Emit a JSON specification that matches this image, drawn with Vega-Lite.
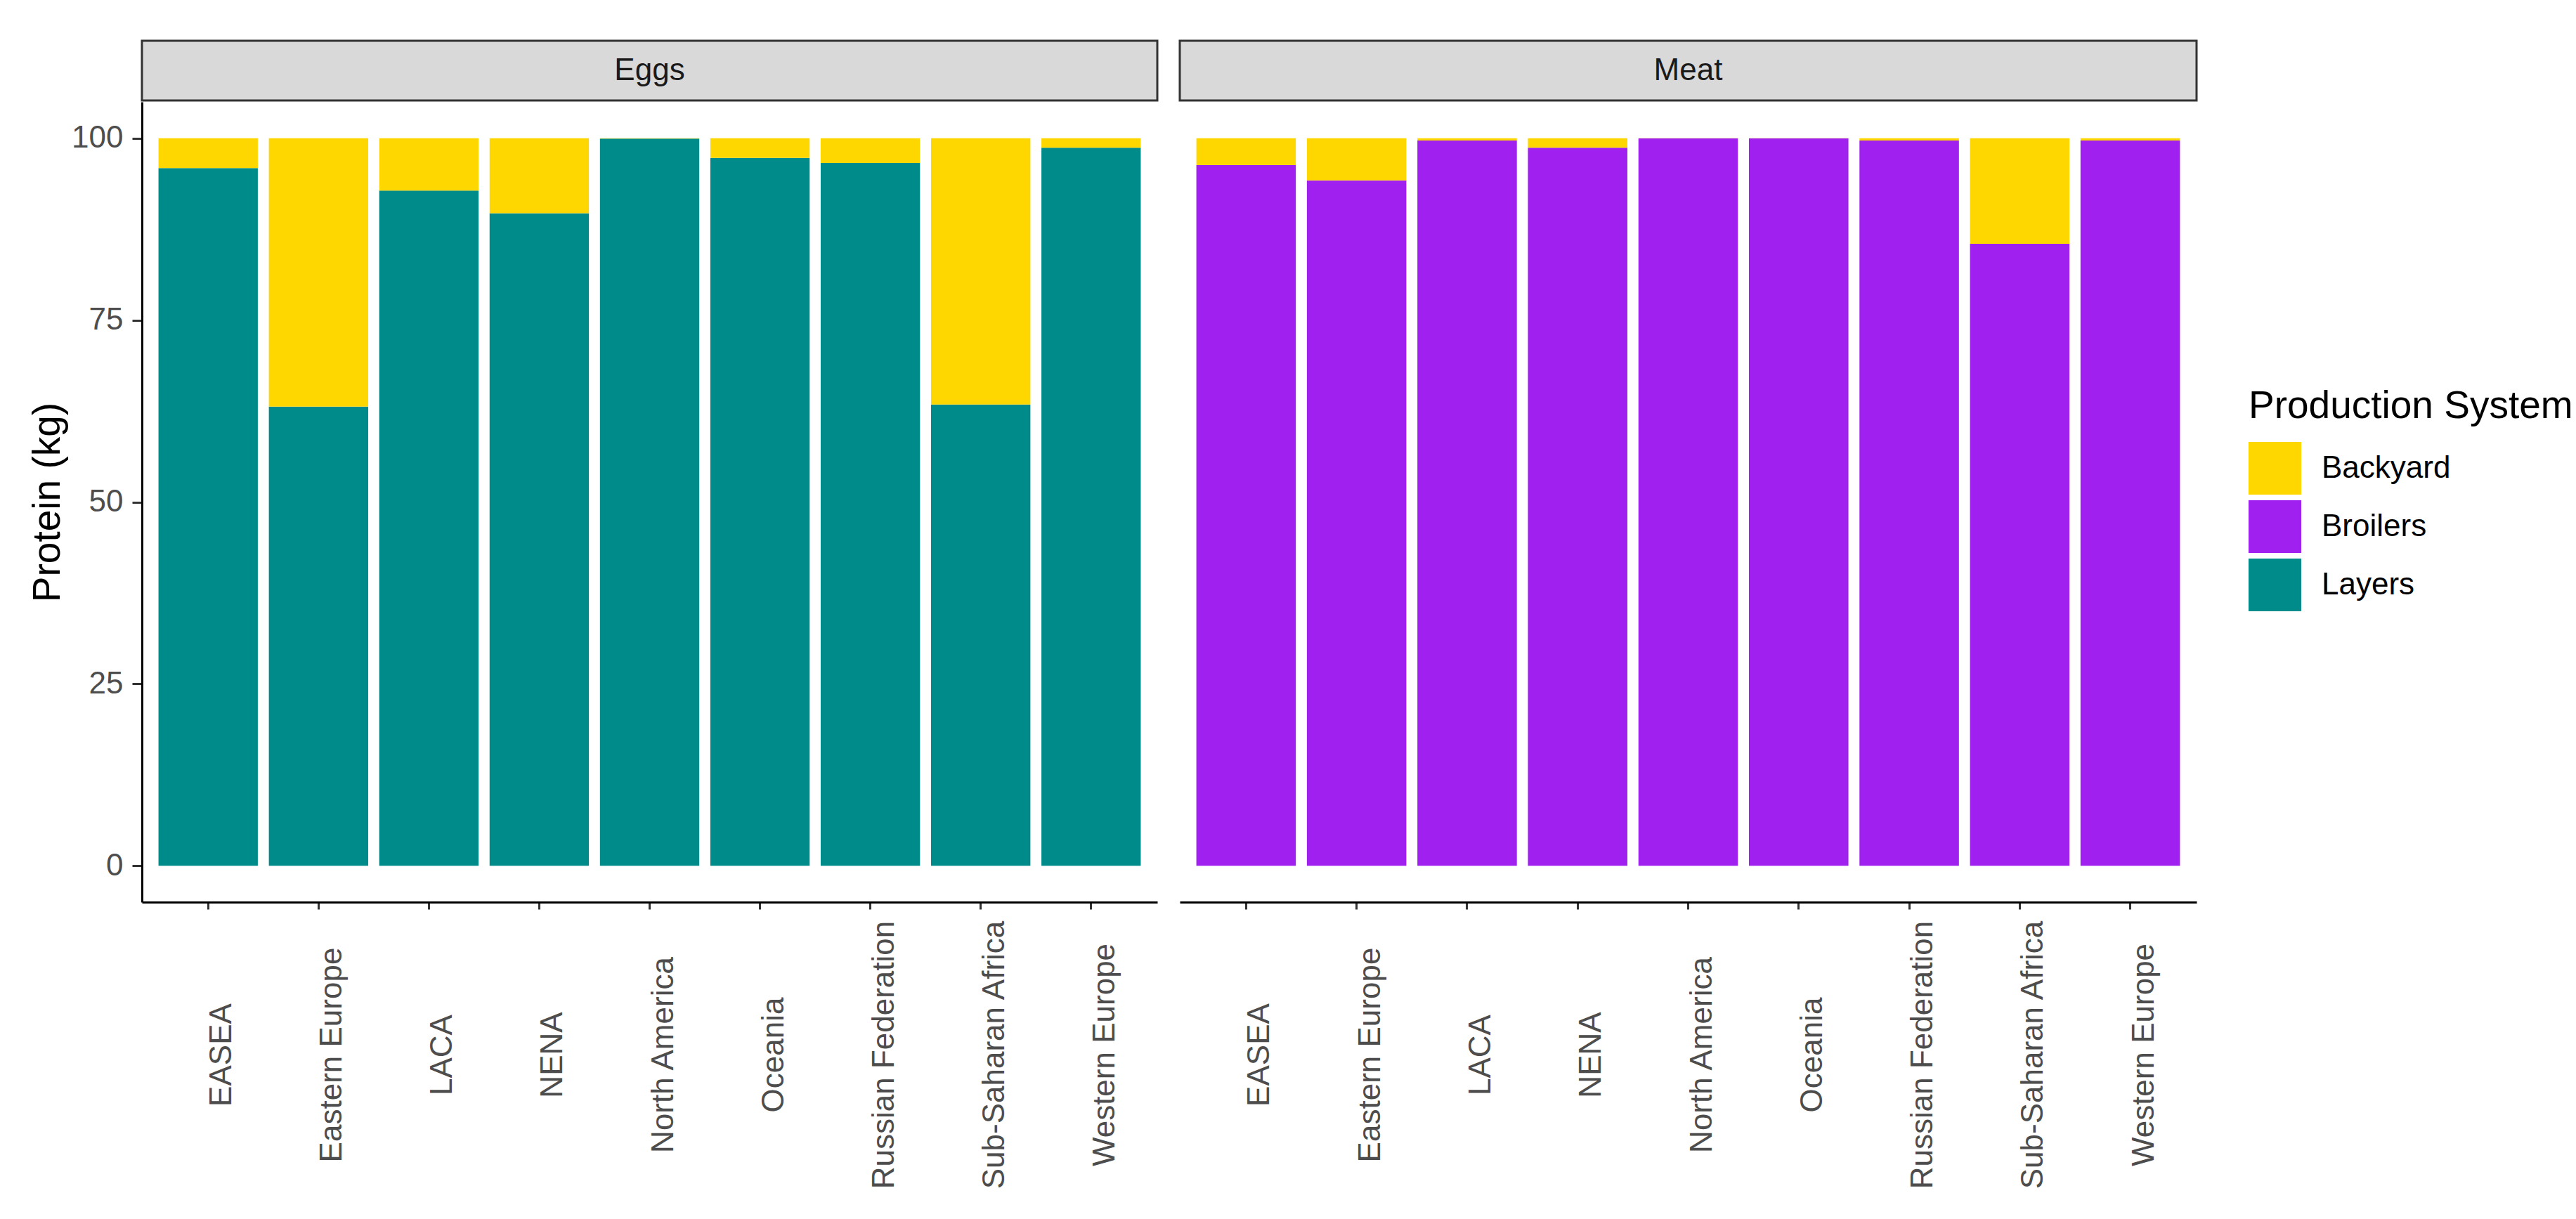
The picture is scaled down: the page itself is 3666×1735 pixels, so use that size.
{
  "$schema": "https://vega.github.io/schema/vega-lite/v6.json",
  "padding": {"left": 40, "top": 56, "right": 0, "bottom": 0},
  "background": "white",
  "config": {
    "font": "Liberation Sans",
    "view": {"stroke": null},
    "axisX": {"domainColor": "black", "domainWidth": 3, "tickColor": "#333333", "tickWidth": 3, "tickSize": 10, "labelFontSize": 44, "labelColor": "#4D4D4D", "labelAngle": -90, "labelAlign": "center", "labelBaseline": "middle", "labelPadding": 207, "labelOffset": 20, "grid": false, "labelLimit": 0},
    "axisY": {"domainColor": "black", "domainWidth": 3, "tickColor": "#333333", "tickWidth": 3, "tickSize": 14, "labelFontSize": 44, "labelColor": "#4D4D4D", "labelPadding": 13, "titleFontSize": 55, "titleFontWeight": "normal", "titleColor": "black", "titlePadding": 5, "grid": false}
  },
  "datasets": {
    "d": [
      {"product": "Eggs", "region": "EASEA", "system": "Layers", "value": 95.9},
      {"product": "Eggs", "region": "EASEA", "system": "Backyard", "value": 4.1},
      {"product": "Eggs", "region": "Eastern Europe", "system": "Layers", "value": 63.1},
      {"product": "Eggs", "region": "Eastern Europe", "system": "Backyard", "value": 36.9},
      {"product": "Eggs", "region": "LACA", "system": "Layers", "value": 92.8},
      {"product": "Eggs", "region": "LACA", "system": "Backyard", "value": 7.2},
      {"product": "Eggs", "region": "NENA", "system": "Layers", "value": 89.7},
      {"product": "Eggs", "region": "NENA", "system": "Backyard", "value": 10.3},
      {"product": "Eggs", "region": "North America", "system": "Layers", "value": 99.95},
      {"product": "Eggs", "region": "North America", "system": "Backyard", "value": 0.05},
      {"product": "Eggs", "region": "Oceania", "system": "Layers", "value": 97.3},
      {"product": "Eggs", "region": "Oceania", "system": "Backyard", "value": 2.7},
      {"product": "Eggs", "region": "Russian Federation", "system": "Layers", "value": 96.6},
      {"product": "Eggs", "region": "Russian Federation", "system": "Backyard", "value": 3.4},
      {"product": "Eggs", "region": "Sub-Saharan Africa", "system": "Layers", "value": 63.4},
      {"product": "Eggs", "region": "Sub-Saharan Africa", "system": "Backyard", "value": 36.6},
      {"product": "Eggs", "region": "Western Europe", "system": "Layers", "value": 98.7},
      {"product": "Eggs", "region": "Western Europe", "system": "Backyard", "value": 1.3},
      {"product": "Meat", "region": "EASEA", "system": "Broilers", "value": 96.3},
      {"product": "Meat", "region": "EASEA", "system": "Backyard", "value": 3.7},
      {"product": "Meat", "region": "Eastern Europe", "system": "Broilers", "value": 94.2},
      {"product": "Meat", "region": "Eastern Europe", "system": "Backyard", "value": 5.8},
      {"product": "Meat", "region": "LACA", "system": "Broilers", "value": 99.7},
      {"product": "Meat", "region": "LACA", "system": "Backyard", "value": 0.3},
      {"product": "Meat", "region": "NENA", "system": "Broilers", "value": 98.7},
      {"product": "Meat", "region": "NENA", "system": "Backyard", "value": 1.3},
      {"product": "Meat", "region": "North America", "system": "Broilers", "value": 99.97},
      {"product": "Meat", "region": "North America", "system": "Backyard", "value": 0.03},
      {"product": "Meat", "region": "Oceania", "system": "Broilers", "value": 99.97},
      {"product": "Meat", "region": "Oceania", "system": "Backyard", "value": 0.03},
      {"product": "Meat", "region": "Russian Federation", "system": "Broilers", "value": 99.7},
      {"product": "Meat", "region": "Russian Federation", "system": "Backyard", "value": 0.3},
      {"product": "Meat", "region": "Sub-Saharan Africa", "system": "Broilers", "value": 85.5},
      {"product": "Meat", "region": "Sub-Saharan Africa", "system": "Backyard", "value": 14.5},
      {"product": "Meat", "region": "Western Europe", "system": "Broilers", "value": 99.7},
      {"product": "Meat", "region": "Western Europe", "system": "Backyard", "value": 0.3}
    ]
  },
  "data": {"name": "d"},
  "spacing": 28,
  "hconcat": [
    {
      "spacing": 0,
      "vconcat": [
        {
          "width": 1445, "height": 85,
          "view": {"fill": "#D9D9D9", "stroke": "#333333", "strokeWidth": 3},
          "transform": [{"filter": "datum.product === 'Eggs'"}, {"aggregate": [{"op": "count", "as": "n"}], "groupby": ["product"]}],
          "mark": {"type": "text", "fontSize": 44, "color": "#1A1A1A"},
          "encoding": {"text": {"field": "product", "type": "nominal"}}
        },
        {
          "width": 1445, "height": 1139,
          "transform": [{"filter": "datum.product === 'Eggs'"}],
          "mark": {"type": "bar"},
          "encoding": {
            "x": {"field": "region", "type": "nominal", "title": null, "scale": {"paddingInner": 0.1, "paddingOuter": 0.15}},
            "y": {"field": "value", "type": "quantitative", "stack": "zero", "title": "Protein (kg)", "scale": {"domain": [-5, 105], "nice": false, "zero": false}, "axis": {"values": [0, 25, 50, 75, 100]}},
            "color": {"field": "system", "type": "nominal", "scale": {"domain": ["Backyard", "Broilers", "Layers"], "range": ["#FFD700", "#A020F0", "#008B8B"]},
              "legend": {"title": "Production System", "orient": "none", "legendX": 2998, "legendY": 494, "titleFontSize": 55, "titleFontWeight": "normal", "titleColor": "black", "titlePadding": 22, "titleLimit": 0, "labelLimit": 0, "labelFontSize": 44, "labelColor": "black", "symbolType": "square", "symbolSize": 5625, "symbolStrokeWidth": 0, "symbolOpacity": 1, "rowPadding": 8, "labelOffset": 29}},
            "order": {"field": "system", "sort": "descending"}
          }
        }
      ]
    },
    {
      "spacing": 0,
      "vconcat": [
        {
          "width": 1447, "height": 85,
          "view": {"fill": "#D9D9D9", "stroke": "#333333", "strokeWidth": 3},
          "transform": [{"filter": "datum.product === 'Meat'"}, {"aggregate": [{"op": "count", "as": "n"}], "groupby": ["product"]}],
          "mark": {"type": "text", "fontSize": 44, "color": "#1A1A1A"},
          "encoding": {"text": {"field": "product", "type": "nominal"}}
        },
        {
          "width": 1447, "height": 1139,
          "transform": [{"filter": "datum.product === 'Meat'"}],
          "mark": {"type": "bar"},
          "encoding": {
            "x": {"field": "region", "type": "nominal", "title": null, "scale": {"paddingInner": 0.1, "paddingOuter": 0.15}},
            "y": {"field": "value", "type": "quantitative", "stack": "zero", "scale": {"domain": [-5, 105], "nice": false, "zero": false}, "axis": null},
            "color": {"field": "system", "type": "nominal", "scale": {"domain": ["Backyard", "Broilers", "Layers"], "range": ["#FFD700", "#A020F0", "#008B8B"]},
              "legend": {"title": "Production System", "orient": "none", "legendX": 2998, "legendY": 494, "titleFontSize": 55, "titleFontWeight": "normal", "titleColor": "black", "titlePadding": 22, "titleLimit": 0, "labelLimit": 0, "labelFontSize": 44, "labelColor": "black", "symbolType": "square", "symbolSize": 5625, "symbolStrokeWidth": 0, "symbolOpacity": 1, "rowPadding": 8, "labelOffset": 29}},
            "order": {"field": "system", "sort": "descending"}
          }
        }
      ]
    }
  ],
  "resolve": {"scale": {"color": "shared"}}
}
